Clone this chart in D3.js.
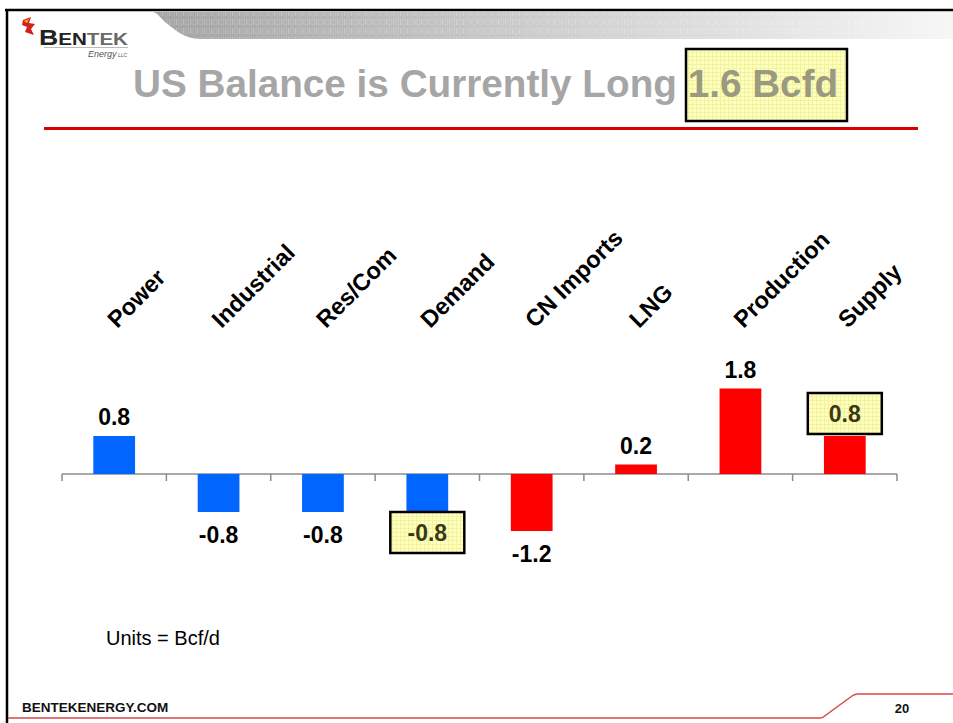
<!DOCTYPE html>
<html><head><meta charset="utf-8">
<script src="https://cdn.jsdelivr.net/npm/d3@7"></script>
<style>body{margin:0;background:#fff}svg{display:block;font-family:"Liberation Sans",Arial,sans-serif}</style>
</head><body>
<svg id="c" width="953" height="723"></svg>
<script>
const categories = ["Power","Industrial","Res/Com","Demand","CN Imports","LNG","Production","Supply"];
const values = [0.8,-0.8,-0.8,-0.8,-1.2,0.2,1.8,0.8];
const groups = ["demand","demand","demand","demand","supply","supply","supply","supply"];
const highlighted = ["Demand","Supply"];
const titleMain = "US Balance is Currently Long ";
const titleHighlight = "1.6 Bcfd";
const unitsNote = "Units = Bcf/d";
const footerText = "BENTEKENERGY.COM";
const pageNumber = "20";

const svg = d3.select("#c");
const defs = svg.append("defs");
const pat = defs.append("pattern").attr("id","dots").attr("width",4).attr("height",4).attr("patternUnits","userSpaceOnUse");
pat.append("rect").attr("width",4).attr("height",4).attr("fill","#ffffc4");
pat.append("rect").attr("x",0).attr("y",0).attr("width",1).attr("height",4).attr("fill","#f3f39a");
pat.append("rect").attr("x",0).attr("y",0).attr("width",4).attr("height",1).attr("fill","#f3f39a");
const grad = defs.append("linearGradient").attr("id","band").attr("x1",0).attr("x2",1).attr("y1",0).attr("y2",0);
grad.append("stop").attr("offset","0%").attr("stop-color","#a2a2a2");
grad.append("stop").attr("offset","50%").attr("stop-color","#cdcdcd");
grad.append("stop").attr("offset","100%").attr("stop-color","#f6f6f6");
const tex = defs.append("pattern").attr("id","bits").attr("width",7).attr("height",9).attr("patternUnits","userSpaceOnUse");
tex.append("rect").attr("x",1).attr("y",1).attr("width",1.2).attr("height",6).attr("fill","#fff").attr("opacity",0.25);
tex.append("rect").attr("x",4).attr("y",1).attr("width",2.5).attr("height",6).attr("fill","none").attr("stroke","#fff").attr("stroke-width",0.7).attr("opacity",0.2);
defs.append("clipPath").attr("id","bandClip").append("path")
  .attr("d","M153,12 L953,12 L953,39 L200,39 C185,39 175,30 165,22 C160,17 157,13 153,12 Z");

// frame
svg.append("line").attr("x1",5).attr("x2",953).attr("y1",10).attr("y2",10).attr("stroke","#000").attr("stroke-width",2.5);
svg.append("line").attr("x1",7).attr("x2",7).attr("y1",9).attr("y2",723).attr("stroke","#000").attr("stroke-width",2.5);

// header band
const bandG = svg.append("g").attr("clip-path","url(#bandClip)");
bandG.append("rect").attr("x",150).attr("y",12).attr("width",803).attr("height",28).attr("fill","url(#band)");
bandG.append("rect").attr("x",150).attr("y",12).attr("width",803).attr("height",28).attr("fill","url(#bits)");

// logo
const logo = svg.append("g");
logo.append("path").attr("d","M23,20 L31,17 L29,23 L35,24 L31,29 L34,35 L25,32 L27,27 L22,25 Z").attr("fill","#d21f1f");
logo.append("path").attr("d","M24,21 L29,19 L27,23 Z").attr("fill","#f2c400");
const bt = logo.append("text").attr("x",39).attr("y",45).attr("font-weight","bold").attr("fill","#222")
  .attr("textLength",89).attr("lengthAdjust","spacingAndGlyphs");
bt.append("tspan").attr("font-size",22).text("B");
bt.append("tspan").attr("font-size",17).text("EN");
bt.append("tspan").attr("font-size",17).attr("fill","#6a6a6a").text("TEK");
logo.append("line").attr("x1",44).attr("x2",128).attr("y1",47.5).attr("y2",47.5).attr("stroke","#aaa").attr("stroke-width",0.8);
logo.append("text").attr("x",88).attr("y",57).attr("font-size",9).attr("font-style","italic").attr("fill","#555").text("Energy").append("tspan").attr("font-size",5).text(" LLC");

// title
svg.append("rect").attr("x",686).attr("y",49).attr("width",161).attr("height",72)
  .attr("fill","url(#dots)").attr("stroke","#000").attr("stroke-width",2.5);
const title = svg.append("text").attr("x",133).attr("y",97).attr("font-size",38.7).attr("font-weight","bold").attr("fill","#a6a6a6");
title.append("tspan").text(titleMain);
title.append("tspan").attr("fill","#9b9a80").text(titleHighlight);
svg.append("line").attr("x1",44).attr("x2",918).attr("y1",128.5).attr("y2",128.5).attr("stroke","#d90000").attr("stroke-width",3);

// chart
const x = d3.scaleBand().domain(categories).range([62,897]).paddingInner(0.6).paddingOuter(0.3);
const y = d3.scaleLinear().domain([-2,2]).range([569,379]);
const color = d3.scaleOrdinal().domain(["demand","supply"]).range(["#0066ff","#ff0000"]);
const step = x.step();
const cx = c => x(c) + x.bandwidth()/2;

// axis
const axisG = svg.append("g").attr("transform",`translate(0,${y(0)})`);
const tickPos = d3.range(categories.length + 1).map(i => 62 + i*step);
axisG.append("line").attr("x1",62).attr("x2",897).attr("stroke","#8c8c8c").attr("stroke-width",1.5);
axisG.selectAll(".tk").data(tickPos).join("line").attr("x1",d=>d).attr("x2",d=>d).attr("y1",0).attr("y2",7)
  .attr("stroke","#8c8c8c").attr("stroke-width",1.5);

// bars
svg.selectAll(".bar").data(categories).join("rect")
  .attr("x",c=>x(c)).attr("width",x.bandwidth())
  .attr("y",(c,i)=>Math.min(y(values[i]),y(0)))
  .attr("height",(c,i)=>Math.abs(y(values[i])-y(0)))
  .attr("fill",(c,i)=>color(groups[i]));

// value labels
const fmt = v => v.toFixed(1);
categories.forEach((c,i)=>{
  const v = values[i];
  const hl = highlighted.includes(c);
  let ty;
  if (hl) {
    const bh = 41, bw = 74;
    const by = v >= 0 ? y(v) - 2 - bh : y(v);
    svg.append("rect").attr("x",cx(c)-bw/2).attr("y",by).attr("width",bw).attr("height",bh)
      .attr("fill","url(#dots)").attr("stroke","#000").attr("stroke-width",2.5);
    ty = by + bh/2 + 8;
  } else {
    ty = v >= 0 ? y(v) - 11 : y(v) + 31;
  }
  svg.append("text").attr("x",cx(c)).attr("y",ty).attr("text-anchor","middle")
    .attr("font-size",23).attr("font-weight","bold").attr("fill",hl ? "#3a3a12" : "#000").text(fmt(v));
});

// category labels
svg.selectAll(".cat").data(categories).join("text")
  .attr("transform",c=>`translate(${cx(c)+3},329) rotate(-45)`)
  .attr("font-size",23.5).attr("font-weight","bold").attr("fill","#000").text(c=>c);

// notes & footer
svg.append("text").attr("x",106).attr("y",645).attr("font-size",20).attr("fill","#000").text(unitsNote);
svg.append("path").attr("d","M8,718 L820,718 Q823,718 826,715 L852,696 Q855,694 858,694 L953,694")
  .attr("fill","none").attr("stroke","#d84848").attr("stroke-width",1.5);
svg.append("text").attr("x",22).attr("y",712).attr("font-size",13.5).attr("font-weight","bold").attr("fill","#111").text(footerText);
svg.append("text").attr("x",902).attr("y",713).attr("text-anchor","middle").attr("font-size",13).attr("font-weight","bold").attr("fill","#111").text(pageNumber);
</script>
</body></html>
